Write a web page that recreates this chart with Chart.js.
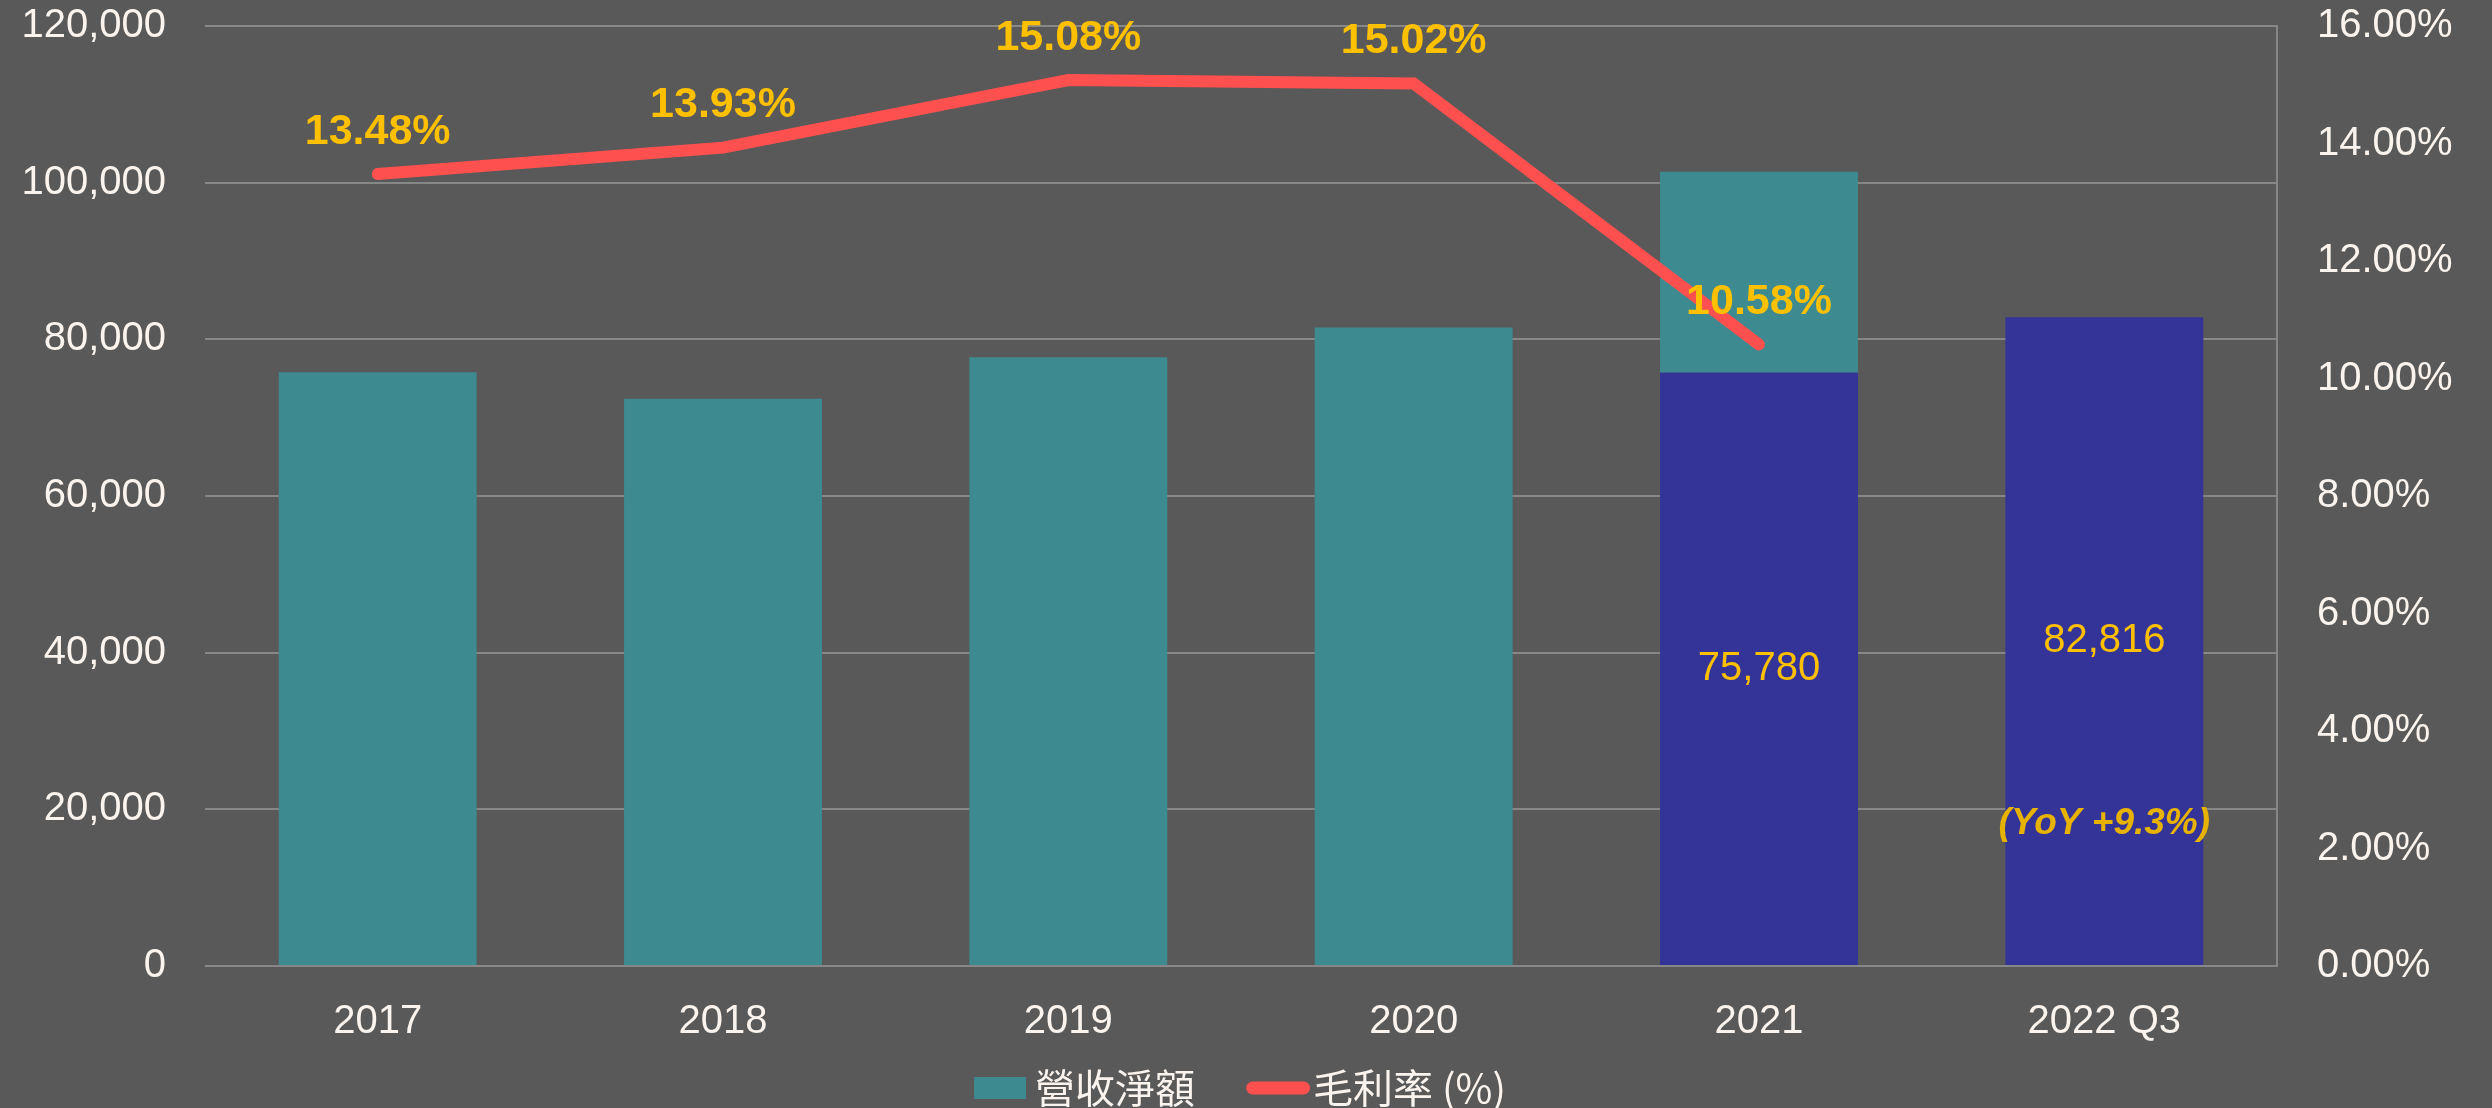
<!DOCTYPE html>
<html>
<head>
<meta charset="utf-8">
<script src="https://cdn.jsdelivr.net/npm/chart.js@4.4.1/dist/chart.umd.min.js"></script>
<style>
  html, body { margin: 0; padding: 0; background: #595959; }
  #wrap { width: 2492px; height: 1108px; }
  canvas { display: block; }
</style>
</head>
<body>
<div id="wrap"><canvas id="revenueChart" width="2492" height="1108"></canvas></div>
<script>
  'use strict';

  // 年度 / 期間
  const categories = ['2017', '2018', '2019', '2020', '2021', '2022 Q3'];

  // 營收淨額 (全年，青色)
  const revenueFull = [75800, 72400, 77700, 81500, 101400, null];
  // 營收淨額 (前三季累計，深藍)
  const revenueQ3 = [null, null, null, null, 75780, 82816];
  // 毛利率 (%)
  const grossMargin = [13.48, 13.93, 15.08, 15.02, 10.58, null];

  // YoY 註記
  const yoyNote = [null, null, null, null, null, '(YoY +9.3%)'];
  const yoyNoteAt = 18200;

  const leftTickLabels = ['0', '20,000', '40,000', '60,000', '80,000', '100,000', '120,000'];
  const rightTickLabels = ['0.00%', '2.00%', '4.00%', '6.00%', '8.00%', '10.00%', '12.00%', '14.00%', '16.00%'];

  const TEAL = '#3D8B90';
  const NAVY = '#343398';
  const RED = '#FF5050';
  const GOLD = '#FFC000';
  const TICK = '#FBF4EE';
  const GRID = '#878787';
  const LEGEND_PAD = 20;
  const SYMBOL_W = 78;

  function legendSymbol(kind) {
    // canvas is centred on the legend box, content pushed right toward the text
    const c = document.createElement('canvas');
    const ctx = c.getContext('2d');
    if (kind === 'bar') {
      c.width = SYMBOL_W + 22;
      c.height = 22;
      ctx.fillStyle = TEAL;
      ctx.fillRect(SYMBOL_W - 30, 0, 52, 22);
    } else {
      c.width = SYMBOL_W + 34;
      c.height = 14;
      ctx.strokeStyle = RED;
      ctx.lineWidth = 13;
      ctx.lineCap = 'round';
      ctx.beginPath();
      ctx.moveTo(SYMBOL_W - 30 + 6.5, 7);
      ctx.lineTo(SYMBOL_W + 34 - 6.5, 7);
      ctx.stroke();
    }
    return c;
  }

  const valueLabels = {
    id: 'valueLabels',
    afterDatasetsDraw(chart) {
      const ctx = chart.ctx;
      ctx.save();
      ctx.textAlign = 'center';
      ctx.textBaseline = 'middle';

      // 毛利率 labels above points
      const lineMeta = chart.getDatasetMeta(2);
      ctx.font = 'bold 43px "Liberation Sans", Arial, sans-serif';
      ctx.fillStyle = GOLD;
      lineMeta.data.forEach(function (pt, i) {
        if (grossMargin[i] == null) return;
        ctx.fillText(grossMargin[i].toFixed(2) + '%', pt.x, pt.y - 42);
      });

      // 前三季營收 labels inside navy bars
      const q3Meta = chart.getDatasetMeta(1);
      ctx.font = '40px "Liberation Sans", Arial, sans-serif';
      q3Meta.data.forEach(function (bar, i) {
        if (revenueQ3[i] == null) return;
        ctx.fillText(revenueQ3[i].toLocaleString('en-US'), bar.x, (bar.y + bar.base) / 2);
      });

      // YoY note
      ctx.font = 'italic bold 37px "Liberation Sans", Arial, sans-serif';
      ctx.fillStyle = '#E8B200';
      const yPix = chart.scales.y.getPixelForValue(yoyNoteAt);
      q3Meta.data.forEach(function (bar, i) {
        if (!yoyNote[i]) return;
        ctx.fillText(yoyNote[i], bar.x, yPix);
      });
      ctx.restore();
    }
  };

  Chart.defaults.font.family = '"Liberation Sans", Arial, sans-serif';
  Chart.defaults.color = TICK;

  function noTopPadding(scale) {
    scale.paddingTop = 0;
    scale.paddingBottom = 0;
  }

  new Chart(document.getElementById('revenueChart'), {
    type: 'bar',
    data: {
      labels: categories,
      datasets: [
        {
          type: 'bar',
          label: '營收淨額',
          data: revenueFull,
          backgroundColor: TEAL,
          yAxisID: 'y',
          order: 2,
          categoryPercentage: 1,
          barPercentage: 0.573,
          pointStyle: legendSymbol('bar'),
        },
        {
          type: 'bar',
          label: '前三季',
          data: revenueQ3,
          backgroundColor: NAVY,
          yAxisID: 'y',
          order: 1,
          categoryPercentage: 1,
          barPercentage: 0.573,
        },
        {
          type: 'line',
          label: '毛利率 (%)',
          data: grossMargin,
          borderColor: RED,
          backgroundColor: RED,
          borderWidth: 12,
          borderCapStyle: 'round',
          borderJoinStyle: 'miter',
          pointRadius: 0,
          pointHoverRadius: 0,
          tension: 0,
          yAxisID: 'y1',
          order: 0,
          pointStyle: legendSymbol('line'),
        },
      ],
    },
    options: {
      responsive: false,
      animation: false,
      events: [],
      layout: { padding: { top: 26, left: 0, right: 0, bottom: 0 } },
      plugins: {
        tooltip: { enabled: false },
        legend: {
          position: 'bottom',
          maxHeight: 60,
          labels: {
            usePointStyle: true,
            pointStyleWidth: SYMBOL_W,
            padding: LEGEND_PAD,
            color: TICK,
            font: { family: '"Noto Sans CJK TC", "Noto Sans CJK SC", sans-serif', size: 40 },
            generateLabels: function (chart) {
              const items = Chart.defaults.plugins.legend.labels.generateLabels(chart);
              // trailing space balances the empty room left of the first symbol
              items.forEach(function (item) {
                if (item.datasetIndex === 2) item.text = item.text + '\u3000 ';
              });
              return items;
            },
            filter: function (item) {
              return item.datasetIndex !== 1;
            },
            sort: function (a, b) {
              return a.datasetIndex - b.datasetIndex;
            },
          },
        },
      },
      scales: {
        x: {
          stacked: true,
          grid: { display: false, drawTicks: false },
          border: { display: false },
          ticks: { padding: 32, color: TICK, font: { size: 40 }, maxRotation: 0 },
          afterFit: function (scale) {
            scale.height = 82;
          },
        },
        y: {
          position: 'left',
          min: 0,
          max: 120000,
          grid: { color: GRID, lineWidth: 2, drawTicks: false },
          border: { display: false },
          ticks: {
            stepSize: 20000,
            padding: 39,
            color: TICK,
            font: { size: 40 },
            callback: function (v, i) {
              return leftTickLabels[i];
            },
          },
          afterFit: function (scale) {
            scale.width = 205;
            noTopPadding(scale);
          },
        },
        y1: {
          position: 'right',
          min: 0,
          max: 16,
          grid: { display: false, drawTicks: false },
          border: { display: true, color: GRID, width: 2 },
          ticks: {
            stepSize: 2,
            padding: 40,
            color: TICK,
            font: { size: 40 },
            callback: function (v, i) {
              return rightTickLabels[i];
            },
          },
          afterFit: function (scale) {
            scale.width = 215;
            noTopPadding(scale);
          },
        },
      },
    },
    plugins: [valueLabels],
  });
</script>
</body>
</html>
